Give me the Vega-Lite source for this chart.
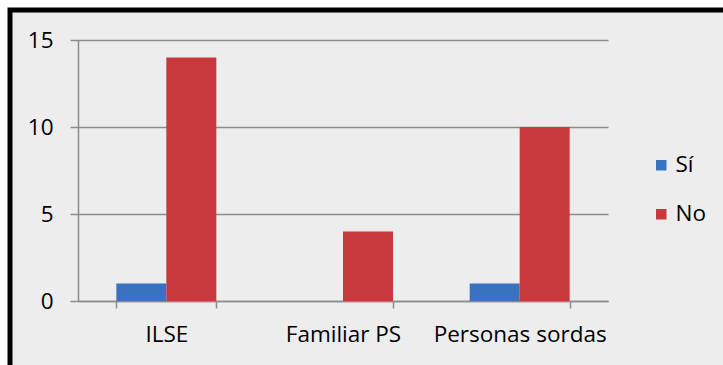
{
  "$schema": "https://vega.github.io/schema/vega-lite/v6.json",
  "width": 730,
  "height": 370,
  "autosize": {"type": "none"},
  "padding": {"left": 10, "top": 10, "right": 0, "bottom": 0},
  "background": "#ffffff",
  "config": {
    "view": {
      "stroke": "#000000",
      "strokeWidth": 5,
      "fill": "#ededed"
    },
    "font": "Open Sans"
  },
  "data": {
    "values": [
      {"categoria": "ILSE", "respuesta": "Sí", "valor": 1},
      {"categoria": "ILSE", "respuesta": "No", "valor": 14},
      {"categoria": "Familiar PS", "respuesta": "Sí", "valor": 0},
      {"categoria": "Familiar PS", "respuesta": "No", "valor": 4},
      {"categoria": "Personas sordas", "respuesta": "Sí", "valor": 1},
      {"categoria": "Personas sordas", "respuesta": "No", "valor": 10}
    ]
  },
  "mark": {"type": "bar"},
  "encoding": {
    "x": {
      "field": "categoria",
      "type": "nominal",
      "sort": ["ILSE", "Familiar PS", "Personas sordas"],
      "scale": {"range": [68, 598], "paddingInner": 0.434, "paddingOuter": 0.217},
      "axis": {
        "title": null,
        "offset": -79,
        "labelAngle": 0,
        "tickBand": "extent",
        "domainColor": "#8c8c8c",
        "domainWidth": 1.5,
        "tickColor": "#8c8c8c",
        "tickWidth": 1.5,
        "tickSize": 7,
        "labelFont": "Open Sans",
        "labelFontSize": 22.5,
        "labelColor": "#000000",
        "labelPadding": 15
      }
    },
    "xOffset": {
      "field": "respuesta",
      "sort": ["Sí", "No"],
      "scale": {"paddingInner": 0, "paddingOuter": 0}
    },
    "y": {
      "field": "valor",
      "type": "quantitative",
      "scale": {"domain": [0, 15], "range": [291, 30], "nice": false, "zero": true},
      "axis": {
        "title": null,
        "offset": -68,
        "values": [0, 5, 10, 15],
        "grid": true,
        "gridColor": "#8c8c8c",
        "gridWidth": 1.5,
        "domainColor": "#8c8c8c",
        "domainWidth": 1.5,
        "tickColor": "#8c8c8c",
        "tickWidth": 1.5,
        "tickSize": 8,
        "labelFont": "Open Sans",
        "labelFontSize": 22.5,
        "labelColor": "#000000",
        "labelPadding": 17
      }
    },
    "color": {
      "field": "respuesta",
      "type": "nominal",
      "sort": ["Sí", "No"],
      "scale": {"domain": ["Sí", "No"], "range": ["#3a72c0", "#c7393a"]},
      "legend": {
        "title": null,
        "orient": "none",
        "legendX": 640,
        "legendY": 144,
        "symbolType": "square",
        "symbolSize": 110,
        "symbolStrokeWidth": 0,
        "labelFont": "Open Sans",
        "labelFontSize": 22.5,
        "labelColor": "#000000",
        "labelOffset": 3,
        "rowPadding": 26
      }
    }
  }
}
